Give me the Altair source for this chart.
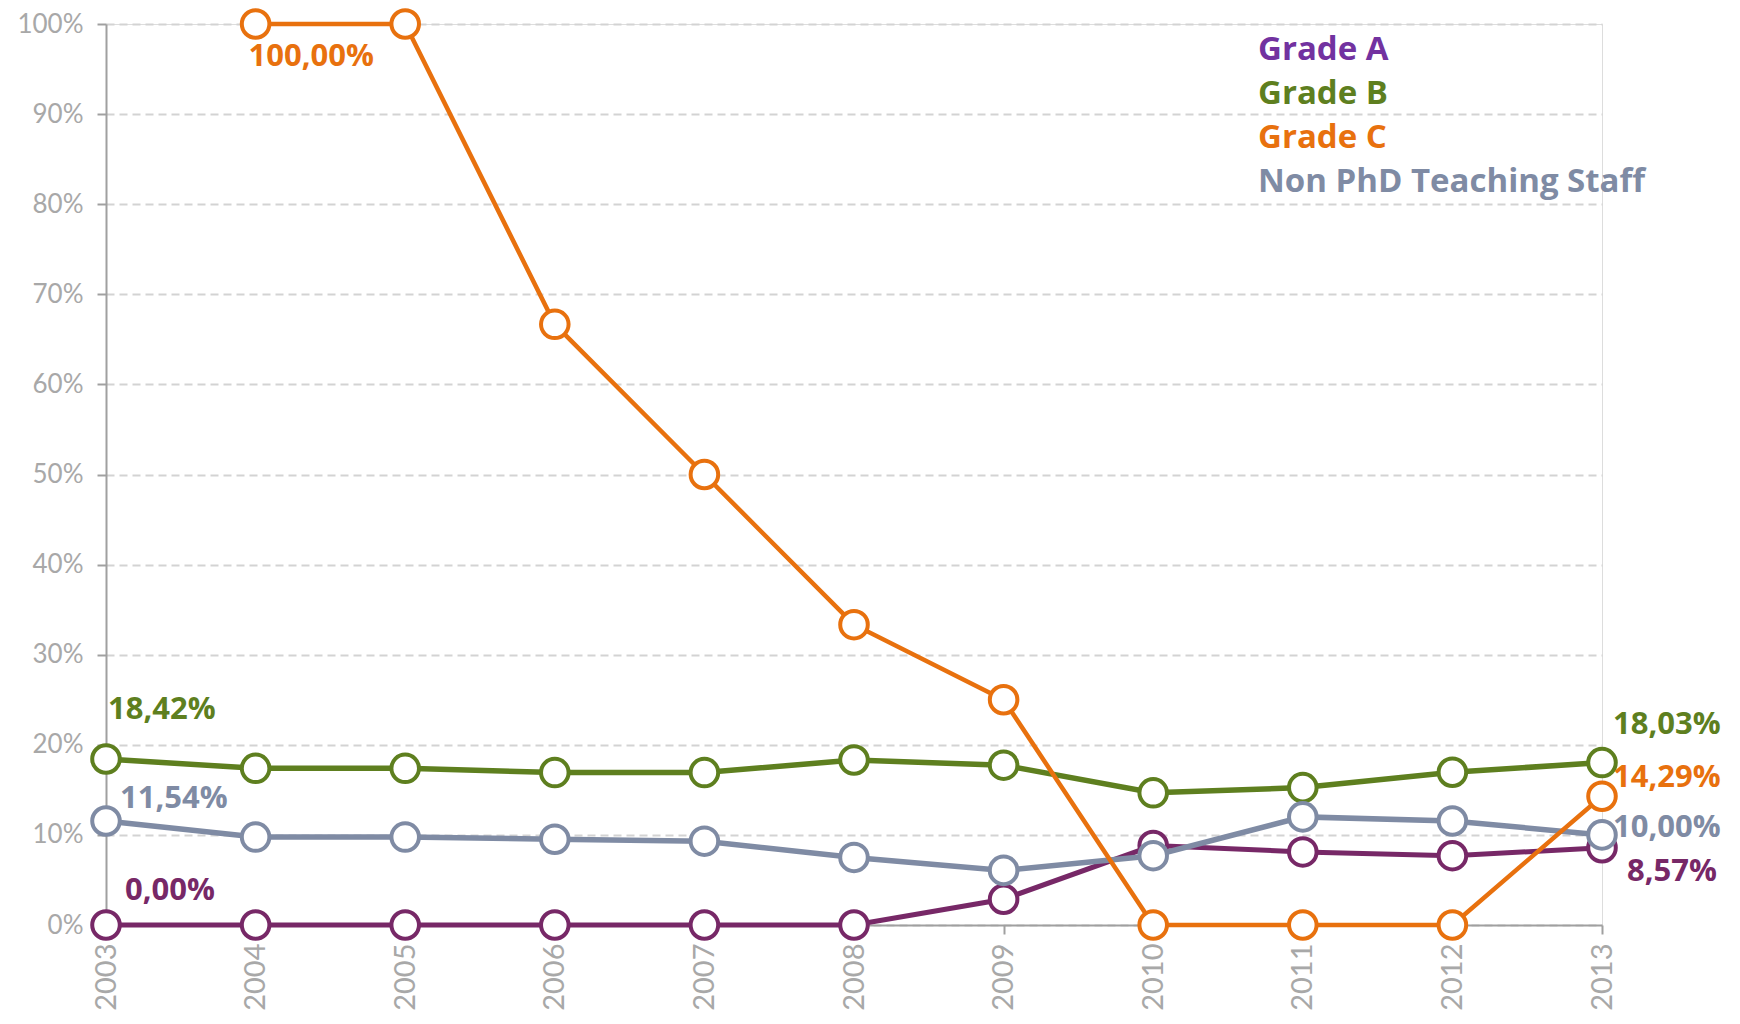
import altair as alt
import pandas as pd

years = ["2003", "2004", "2005", "2006", "2007", "2008", "2009", "2010", "2011", "2012", "2013"]
series_names = ["Grade A", "Grade B", "Grade C", "Non PhD Teaching Staff"]
grade_a = [0.0, 0.0, 0.0, 0.0, 0.0, 0.0, 2.86, 8.82, 8.11, 7.69, 8.57]
grade_b = [18.42, 17.39, 17.39, 16.92, 16.92, 18.31, 17.74, 14.67, 15.25, 16.95, 18.03]
grade_c = [None, 100.0, 100.0, 66.67, 50.0, 33.33, 25.0, 0.0, 0.0, 0.0, 14.29]
non_phd = [11.54, 9.76, 9.76, 9.52, 9.30, 7.50, 6.06, 7.69, 12.00, 11.54, 10.00]
y_ticks = [0, 10, 20, 30, 40, 50, 60, 70, 80, 90, 100]

line_colors = {
    "Grade A": "#772867",
    "Grade B": "#5E7F1F",
    "Grade C": "#E8710E",
    "Non PhD Teaching Staff": "#7F8BA4",
}
legend_colors = {
    "Grade A": "#7232A0",
    "Grade B": "#5E7F1F",
    "Grade C": "#E8710E",
    "Non PhD Teaching Staff": "#7F8BA4",
}

values = {
    "Grade A": grade_a,
    "Grade B": grade_b,
    "Grade C": grade_c,
    "Non PhD Teaching Staff": non_phd,
}

rows = []
for s in series_names:
    for y, v in zip(years, values[s]):
        if v is not None:
            rows.append({"series": s, "year": y, "value": v,
                         "label": f"{v:.2f}".replace(".", ",") + "%"})
df = pd.DataFrame(rows)

FONT = "Lato"
BOLD_FONT = "Open Sans"

x_enc = alt.X("year:O", scale=alt.Scale(type="point", padding=0),
              axis=alt.Axis(title=None, labelAngle=270, labelFontSize=29, labelFont=FONT,
                            labelColor="#A8A8A8", domainColor="#A0A0A0", domainWidth=2,
                            tickColor="#A0A0A0", tickSize=9, tickWidth=2, labelPadding=9,
                            grid=False))
y_enc = alt.Y("value:Q", scale=alt.Scale(domain=[0, 100], nice=False),
              axis=alt.Axis(title=None, values=y_ticks, labelExpr="datum.value + '%'",
                            labelFontSize=26, labelFont=FONT, labelColor="#A8A8A8",
                            grid=True, gridDash=[8, 5], gridColor="#D3D3D3", gridWidth=2,
                            domainColor="#A0A0A0", domainWidth=2, tickColor="#A0A0A0",
                            tickSize=9, tickWidth=2, labelPadding=14))

layers = []
draw_order = ["Grade A", "Grade B", "Non PhD Teaching Staff", "Grade C"]
widths = {"Grade A": 5, "Grade B": 5.5, "Non PhD Teaching Staff": 5.5, "Grade C": 4.5}
for i, s in enumerate(draw_order):
    base = alt.Chart(df).transform_filter(alt.datum.series == s)
    ex = x_enc if i == 0 else alt.X("year:O", scale=alt.Scale(type="point", padding=0))
    ey = y_enc if i == 0 else alt.Y("value:Q", scale=alt.Scale(domain=[0, 100], nice=False))
    layers.append(base.mark_line(color=line_colors[s], strokeWidth=widths[s]).encode(x=ex, y=ey))
    layers.append(base.mark_point(shape="circle", filled=True, fill="white", stroke=line_colors[s],
                                  strokeWidth=4, size=760, opacity=1).encode(
        x="year:O", y="value:Q"))

label_specs = [
    ("Grade C", "2004", -7, 33),
    ("Grade B", "2003", 2, -49),
    ("Non PhD Teaching Staff", "2003", 14, -22),
    ("Grade A", "2003", 19, -34),
    ("Grade B", "2013", 11, -38),
    ("Grade C", "2013", 11, -18),
    ("Non PhD Teaching Staff", "2013", 11, -7),
    ("Grade A", "2013", 25, 24),
]
for s, yr, dx, dy in label_specs:
    layers.append(
        alt.Chart(df).transform_filter((alt.datum.series == s) & (alt.datum.year == yr))
        .mark_text(align="left", baseline="middle", dx=dx, dy=dy, font=BOLD_FONT,
                   fontSize=31, fontWeight="bold", color=line_colors[s])
        .encode(x="year:O", y="value:Q", text="label:N")
    )

legend_df = pd.DataFrame({"series": series_names})
for i, s in enumerate(series_names):
    layers.append(
        alt.Chart(legend_df).transform_filter(alt.datum.series == s)
        .mark_text(align="left", baseline="middle", font=BOLD_FONT, fontSize=33,
                   fontWeight="bold", color=legend_colors[s])
        .encode(x=alt.value(1152), y=alt.value(26 + 44 * i), text="series:N")
    )

chart = alt.layer(*layers).properties(
    width=1496, height=901,
    autosize=alt.AutoSizeParams(type="none"),
    padding={"left": 98, "top": 16, "right": 130, "bottom": 91},
).configure_view(stroke=None).configure(background="white")

chart.save("out.html", embed_options={"renderer": "svg", "actions": False})
